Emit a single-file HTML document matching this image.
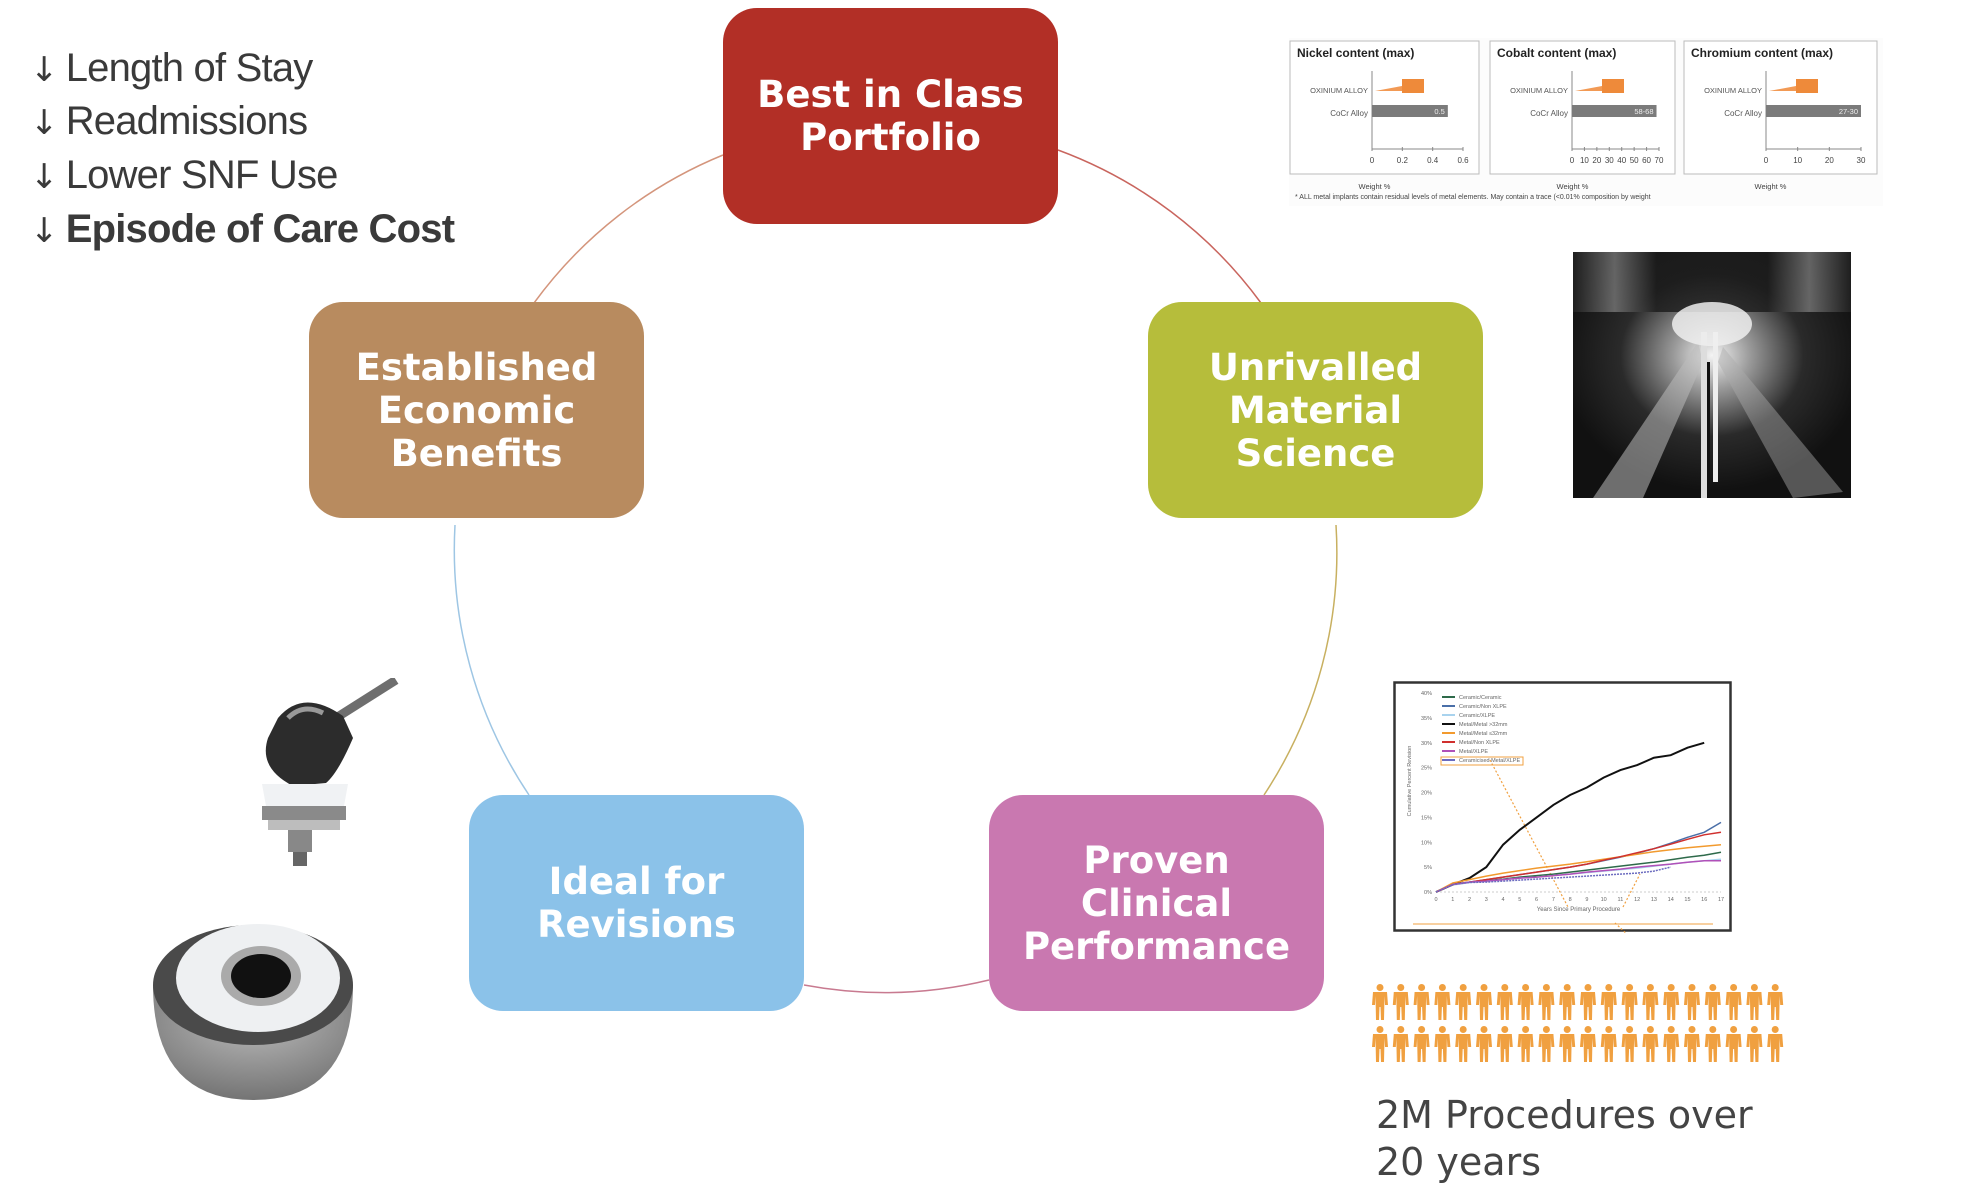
<!DOCTYPE html>
<html><head><meta charset="utf-8">
<style>
html,body{margin:0;padding:0;background:#fff;}
body{width:1962px;height:1204px;position:relative;overflow:hidden;font-family:"Liberation Sans",sans-serif;}
.box{position:absolute;width:335px;height:216px;border-radius:34px;color:#fff;font-family:"DejaVu Sans","Liberation Sans",sans-serif;font-weight:bold;font-size:37px;line-height:43px;display:flex;align-items:center;justify-content:center;text-align:center;}
.benefit{position:absolute;left:30px;font-size:40px;color:#3a3a3a;letter-spacing:-0.8px;white-space:nowrap;}
.benefit span{font-family:"DejaVu Sans",sans-serif;font-weight:normal;font-size:34px;margin-right:8px;}
</style></head>
<body>
<svg id="ring" width="1962" height="1204" style="position:absolute;left:0;top:0">
 <path d="M 723 155 A 440 440 0 0 0 534 303" stroke="#d4957c" stroke-width="1.5" fill="none"/>
 <path d="M 1058 150 A 440 440 0 0 1 1261 303" stroke="#c9655e" stroke-width="1.5" fill="none"/>
 <path d="M 1336 525 A 440 440 0 0 1 1264 795" stroke="#c8b060" stroke-width="1.5" fill="none"/>
 <path d="M 989 980 A 440 440 0 0 1 804 985" stroke="#c87a90" stroke-width="1.5" fill="none"/>
 <path d="M 529 795 A 440 440 0 0 1 455 525" stroke="#9ec6e4" stroke-width="1.5" fill="none"/>
</svg>

<div class="benefit" style="top:46px"><span>↓</span>Length of Stay</div>
<div class="benefit" style="top:99px"><span>↓</span>Readmissions</div>
<div class="benefit" style="top:153px"><span>↓</span>Lower SNF Use</div>
<div class="benefit" style="top:207px;font-weight:600"><span>↓</span>Episode of Care Cost</div>

<div class="box" style="left:723px;top:8px;background:#b22f26">Best in Class<br>Portfolio</div>
<div class="box" style="left:1148px;top:302px;background:#b6bd3b">Unrivalled<br>Material<br>Science</div>
<div class="box" style="left:309px;top:302px;background:#b88b5f">Established<br>Economic<br>Benefits</div>
<div class="box" style="left:469px;top:795px;background:#8bc2e9">Ideal for<br>Revisions</div>
<div class="box" style="left:989px;top:795px;background:#c978b0">Proven<br>Clinical<br>Performance</div>

<svg id="metal" width="600" height="175" style="position:absolute;left:1287px;top:36px;font-family:'Liberation Sans',sans-serif">
 <rect x="2" y="2" width="594" height="168" fill="#fcfcfc"/>
</svg>

<svg width="278" height="246" style="position:absolute;left:1573px;top:252px">
 <defs>
  <radialGradient id="burst" cx="0.5" cy="0.42" r="0.55">
   <stop offset="0" stop-color="#f4f4f4"/><stop offset="0.25" stop-color="#9a9a9a"/><stop offset="0.6" stop-color="#2a2a2a"/><stop offset="1" stop-color="#111"/>
  </radialGradient>
  <linearGradient id="topg" x1="0" x2="1"><stop offset="0" stop-color="#222"/><stop offset="0.15" stop-color="#777"/><stop offset="0.3" stop-color="#1a1a1a"/><stop offset="0.7" stop-color="#1a1a1a"/><stop offset="0.85" stop-color="#777"/><stop offset="1" stop-color="#222"/></linearGradient>
 </defs>
 <rect width="278" height="246" fill="url(#burst)"/>
 <rect width="278" height="60" fill="url(#topg)" opacity="0.8"/>
 <path d="M 125 90 L 20 246 L 70 246 L 130 110 Z" fill="#bbb" opacity="0.55"/>
 <path d="M 150 95 L 270 240 L 220 246 L 145 110 Z" fill="#aaa" opacity="0.45"/>
 <rect x="128" y="80" width="6" height="166" fill="#ddd"/><rect x="140" y="80" width="5" height="150" fill="#eee"/>
 <ellipse cx="139" cy="72" rx="40" ry="22" fill="#eee" opacity="0.85"/>
 <rect x="134" y="110" width="3" height="136" fill="#111"/>
</svg>

<svg width="160" height="200" style="position:absolute;left:248px;top:678px">
 <line x1="80" y1="45" x2="148" y2="2" stroke="#6e6e6e" stroke-width="9"/>
 <path d="M 30 40 Q 55 10 95 38 L 105 60 Q 90 95 78 105 L 45 108 Q 10 90 20 60 Z" fill="#2c2c2c"/>
 <path d="M 40 40 Q 55 25 75 35" stroke="#999" stroke-width="5" fill="none"/>
 <path d="M 14 106 L 100 106 L 96 128 L 18 128 Z" fill="#f0f2f4"/>
 <rect x="14" y="128" width="84" height="14" fill="#8a8a8a"/>
 <rect x="20" y="142" width="72" height="10" fill="#bdbdbd"/>
 <rect x="40" y="152" width="24" height="22" fill="#888"/>
 <rect x="45" y="174" width="14" height="14" fill="#666"/>
</svg>
<svg width="220" height="200" style="position:absolute;left:143px;top:910px">
 <defs><radialGradient id="shell" cx="0.5" cy="0.3" r="0.8"><stop offset="0" stop-color="#bbb"/><stop offset="1" stop-color="#6a6a6a"/></radialGradient></defs>
 <path d="M 10 75 Q 10 190 110 190 Q 210 190 210 75 Z" fill="url(#shell)"/>
 <ellipse cx="110" cy="75" rx="100" ry="60" fill="#4a4a4a"/>
 <ellipse cx="115" cy="68" rx="82" ry="54" fill="#eef0f2"/>
 <ellipse cx="118" cy="66" rx="40" ry="30" fill="#aaa"/>
 <ellipse cx="118" cy="66" rx="30" ry="22" fill="#111"/>
</svg>

<svg id="rev" width="340" height="252" style="position:absolute;left:1393px;top:681px;font-family:'Liberation Sans',sans-serif">
 <rect x="1.5" y="1.5" width="336" height="248" fill="#fff" stroke="#333" stroke-width="2.5"/>
</svg>

<svg id="people" width="430" height="82" style="position:absolute;left:1369px;top:982px"></svg>

<div style="position:absolute;left:1376px;top:1092px;font-family:'DejaVu Sans',sans-serif;font-size:38px;line-height:47px;color:#444">2M Procedures over<br>20 years</div>

<script>
const metalTitles = ["Nickel content (max)", "Cobalt content (max)", "Chromium content (max)"];
const metalCocrValues = [0.5, 68, 30];
const metalCocrLabels = ["0.5", "58-68", "27-30"];
const metalTicks = [[0, 0.2, 0.4, 0.6], [0, 10, 20, 30, 40, 50, 60, 70], [0, 10, 20, 30]];
const metalTickLabels = [["0","0.2","0.4","0.6"],["0","10","20","30","40","50","60","70"],["0","10","20","30"]];

const NS = "http://www.w3.org/2000/svg";
function mk(parent, tag, attrs, text) {
  const e = document.createElementNS(NS, tag);
  for (const k in attrs) e.setAttribute(k, attrs[k]);
  if (text !== undefined) e.textContent = text;
  parent.appendChild(e);
  return e;
}
const metal = document.getElementById('metal');
const panelX = [3, 203, 397];
const panelW = [189, 185, 193];
for (let p = 0; p < 3; p++) {
  const g = mk(metal, 'g', {transform: 'translate(' + panelX[p] + ',5)'});
  
  
  mk(g, 'rect', {x: 0, y: 0, width: panelW[p], height: 133, fill: '#fff', stroke: '#bbb', 'stroke-width': 1});
  mk(g, 'text', {x: 7, y: 16, 'font-size': 12, 'font-weight': 'bold', fill: '#222'}, metalTitles[p]);
  const ax0 = 82, ax1 = panelW[p] - 16;
  const ticks = metalTicks[p];
  const maxT = ticks[ticks.length - 1];
  const sx = v => ax0 + (v / maxT) * (ax1 - ax0);
  mk(g, 'line', {x1: ax0, y1: 30, x2: ax0, y2: 108, stroke: '#888'});
  mk(g, 'line', {x1: ax0, y1: 108, x2: ax1, y2: 108, stroke: '#888'});
  ticks.forEach((t, i) => {
    mk(g, 'line', {x1: sx(t), y1: 106, x2: sx(t), y2: 110, stroke: '#888'});
    const lbl = mk(g, 'text', {x: sx(t), y: 122, 'font-size': 8, fill: '#444', 'text-anchor': 'middle'}, metalTickLabels[p][i]);
    
    
  });
  mk(g, 'text', {x: ax0 - 4, y: 52, 'font-size': 7.5, fill: '#555', 'text-anchor': 'end'}, 'OXINIUM ALLOY');
  mk(g, 'text', {x: ax0 - 4, y: 75, 'font-size': 8, fill: '#555', 'text-anchor': 'end'}, 'CoCr Alloy');
  mk(g, 'path', {d: 'M ' + (ax0+3) + ' 50 L ' + (ax0+30) + ' 45 L ' + (ax0+30) + ' 50 Z', fill: '#f29a55'});
  mk(g, 'rect', {x: ax0 + 30, y: 38, width: 22, height: 14, fill: '#ee8a3a'});
  const bar = mk(g, 'rect', {x: ax0, y: 64, width: sx(metalCocrValues[p]) - ax0, height: 12, fill: '#7b7b7b'});
  
  
  mk(g, 'text', {x: sx(metalCocrValues[p]) - 3, y: 73, 'font-size': 7.5, fill: '#eee', 'text-anchor': 'end'}, metalCocrLabels[p]);
  mk(g, 'text', {x: panelW[p] / 2 - 10, y: 148, 'font-size': 7.5, fill: '#444', 'text-anchor': 'middle'}, 'Weight %');
}
mk(metal, 'text', {x: 8, y: 163, 'font-size': 7, fill: '#444'}, '* ALL metal implants contain residual levels of metal elements.  May contain a trace (<0.01% composition by weight');

const years = [0,1,2,3,4,5,6,7,8,9,10,11,12,13,14,15,16,17];
const seriesNames = ["Ceramic/Ceramic","Ceramic/Non XLPE","Ceramic/XLPE","Metal/Metal >32mm","Metal/Metal \u226432mm","Metal/Non XLPE","Metal/XLPE","Ceramicised Metal/XLPE"];
const seriesColors = ["#2e6a4a","#4a6fa8","#a9d3ee","#111111","#f29a2e","#d0302e","#b050b8","#6b6bbf"];
const ceramicCeramic = [0,1.5,2,2.3,2.6,3,3.3,3.6,4,4.4,4.8,5.2,5.6,6,6.5,7,7.4,8];
const ceramicNonXlpe = [0,1.5,2,2.5,3,3.5,4,4.5,5,5.6,6.3,7,7.8,8.7,9.8,11,12,14];
const ceramicXlpe = [0,1.4,1.9,2.2,2.5,2.8,3,3.3,3.6,3.9,4.2,4.5,4.8,5.2,5.6,6,6.3,6.6];
const metalMetalLarge = [0,1.5,2.8,5,9.5,12.5,15,17.5,19.5,21,23,24.5,25.5,27,27.5,29,30];
const metalMetalSmall = [0,1.8,2.5,3.2,3.8,4.3,4.8,5.2,5.6,6.1,6.6,7.1,7.6,8.1,8.5,8.9,9.2,9.5];
const metalNonXlpe = [0,1.5,2,2.5,3,3.5,4,4.5,5,5.6,6.4,7.1,7.9,8.7,9.6,10.6,11.5,12];
const metalXlpe = [0,1.5,2,2.2,2.5,2.8,3,3.3,3.6,4,4.3,4.6,5,5.3,5.6,6,6.3,6.3];
const ceramicisedMetalXlpe = [0,1.5,1.9,2,2.2,2.4,2.6,2.8,3,3.2,3.4,3.6,3.8,4.2,5];
const seriesValues = [ceramicCeramic,ceramicNonXlpe,ceramicXlpe,metalMetalLarge,metalMetalSmall,metalNonXlpe,metalXlpe,ceramicisedMetalXlpe];
const yTicks = [0,5,10,15,20,25,30,35,40];
const yTickLabels = ["0%","5%","10%","15%","20%","25%","30%","35%","40%"];

const rev = document.getElementById('rev');
const X0 = 43, X1 = 328, Y0 = 211, Y1 = 12;
const xs = v => X0 + (v / 17) * (X1 - X0);
const ys = v => Y0 - (v / 40) * (Y0 - Y1);
mk(rev, 'line', {x1: X0, y1: Y0, x2: X1, y2: Y0, stroke: '#ccc', 'stroke-dasharray': '2 2'});
yTicks.forEach((t, i) => {
  const l = mk(rev, 'text', {x: X0 - 4, y: ys(t) + 2, 'font-size': 5.5, fill: '#666', 'text-anchor': 'end'}, yTickLabels[i]);
  
  
});
years.forEach(y => {
  const l = mk(rev, 'text', {x: xs(y), y: Y0 + 9, 'font-size': 5.5, fill: '#666', 'text-anchor': 'middle'}, String(y));
  
  
});
mk(rev, 'text', {x: (X0 + X1) / 2, y: Y0 + 19, 'font-size': 6, fill: '#666', 'text-anchor': 'middle'}, 'Years Since Primary Procedure');
mk(rev, 'text', {x: 0, y: 0, 'font-size': 5.5, fill: '#666', 'text-anchor': 'middle', transform: 'translate(18,100) rotate(-90)'}, 'Cumulative Percent Revision');
mk(rev, 'path', {d: 'M 97 79 L 175 226 M 230 226 L 247 193 M 222 242 L 236 255', stroke: '#f0a040', 'stroke-width': 1.2, 'stroke-dasharray': '2 2', fill: 'none'});
mk(rev, 'line', {x1: 20, y1: 243, x2: 320, y2: 243, stroke: '#f0a040', 'stroke-width': 1});
seriesValues.forEach((vals, s) => {
  const pts = vals.map((v, i) => xs(years[i]).toFixed(1) + ',' + ys(v).toFixed(1)).join(' ');
  const pl = mk(rev, 'polyline', {points: pts, fill: 'none', stroke: seriesColors[s], 'stroke-width': s === 3 ? 2 : 1.5});
  
  
  if (s === 7) pl.setAttribute('stroke-dasharray', '2 1');
});
seriesNames.forEach((n, s) => {
  const y = 16 + s * 9;
  mk(rev, 'line', {x1: 49, y1: y, x2: 62, y2: y, stroke: seriesColors[s], 'stroke-width': 2});
  const t = mk(rev, 'text', {x: 66, y: y + 2, 'font-size': 5.5, fill: '#666'}, n);
  
  
});
mk(rev, 'rect', {x: 48, y: 76, width: 82, height: 8, fill: 'none', stroke: '#f0a040', 'stroke-width': 1});

const peopleRows = [20, 20];
const ppl = document.getElementById('people');
peopleRows.forEach((count, r) => {
  for (let i = 0; i < count; i++) {
    const g = mk(ppl, 'g', {transform: 'translate(' + (3 + i * 20.8) + ',' + (2 + r * 42) + ')', fill: '#f0a040'});
    
    
    mk(g, 'circle', {cx: 8, cy: 3.5, r: 3.5});
    mk(g, 'path', {d: 'M 1 8 L 15 8 L 16 21 L 13 21 L 12.5 12 L 12 36 L 9 36 L 8.5 23 L 7.5 23 L 7 36 L 4 36 L 3.5 12 L 3 21 L 0 21 Z'});
  }
});
</script>
</body></html>
